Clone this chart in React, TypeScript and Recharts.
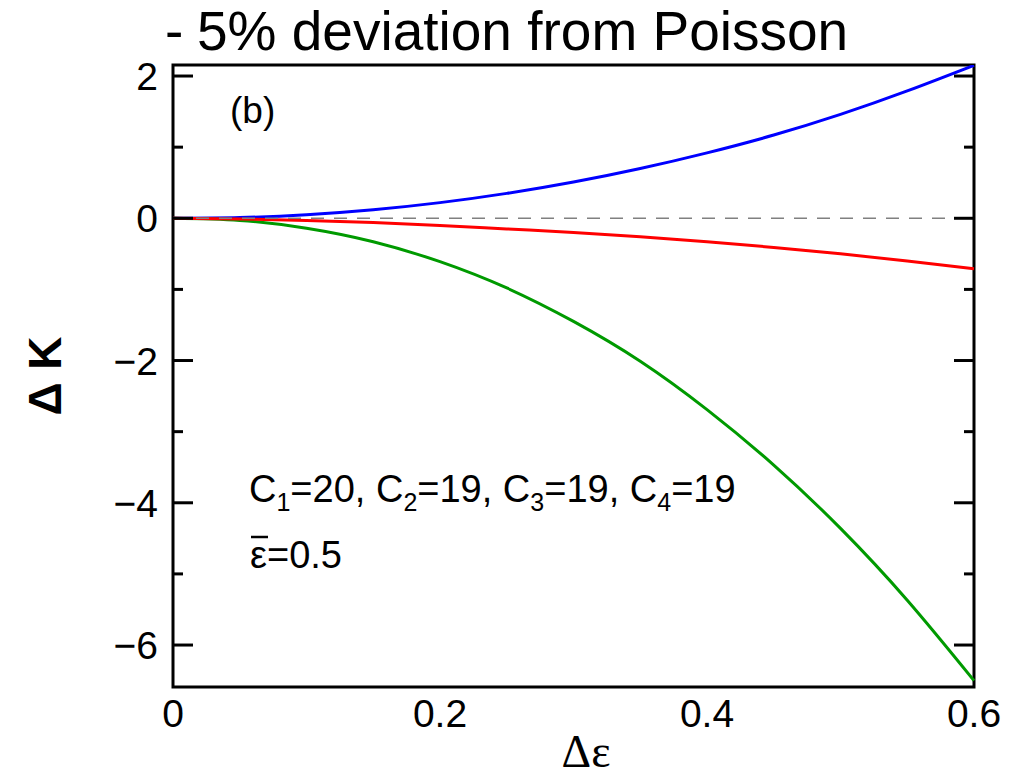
import React from 'react';
import {
  LineChart,
  Line,
  XAxis,
  YAxis,
  ReferenceLine,
  ReferenceArea,
  Customized,
} from 'recharts';

// Δε sample positions
const deltaEps = [0, 0.05, 0.1, 0.15, 0.2, 0.25, 0.3, 0.35, 0.4, 0.45, 0.5, 0.55, 0.6];

// ΔK curves
const blueK = [0, 0.01, 0.05, 0.12, 0.22, 0.35, 0.51, 0.7, 0.92, 1.17, 1.46, 1.79, 2.15];
const redK = [0, -0.01, -0.03, -0.06, -0.1, -0.15, -0.2, -0.26, -0.33, -0.41, -0.5, -0.6, -0.71];
const greenK = [0, -0.03, -0.14, -0.33, -0.61, -0.98, -1.45, -2.01, -2.69, -3.47, -4.36, -5.37, -6.5];

// axis ticks
const xTicks = [0, 0.2, 0.4, 0.6];
const yTicks = [-6, -5, -4, -3, -2, -1, 0, 1, 2];
const Y_MIN = -6.59;
const Y_MAX = 2.155;

const data = deltaEps.map((x, i) => ({
  x,
  blue: blueK[i],
  red: redK[i],
  green: greenK[i],
}));

const FONT = '"Liberation Sans", Arial, Helvetica, sans-serif';
const TICK_FONT = 39;

const fmtY = (v: number) => (v < 0 ? '\u2212' + Math.abs(v) : String(v));

const LeftTick = (props: any) => {
  const { x, y, payload } = props;
  const v = payload.value as number;
  const major = v % 2 === 0;
  return (
    <g>
      <line x1={x} x2={x + (major ? 20 : 10)} y1={y} y2={y} stroke="#000" strokeWidth={3} />
      {major && (
        <text
          x={x - 15}
          y={y + 14}
          textAnchor="end"
          fontSize={TICK_FONT}
          fontFamily={FONT}
          fill="#000"
        >
          {fmtY(v)}
        </text>
      )}
    </g>
  );
};

const RightTick = (props: any) => {
  const { x, y, payload } = props;
  const v = payload.value as number;
  const major = v % 2 === 0;
  return <line x1={x} x2={x - (major ? 20 : 10)} y1={y} y2={y} stroke="#000" strokeWidth={3} />;
};

const BottomTick = (props: any) => {
  const { x, y, payload } = props;
  const v = payload.value as number;
  return (
    <text x={x} y={y + 40} textAnchor="middle" fontSize={TICK_FONT} fontFamily={FONT} fill="#000">
      {String(v)}
    </text>
  );
};

const Annotations = () => (
  <g fontFamily={FONT} fill="#000">
    <text x={165} y={50} fontSize={55}>
      -<tspan x={197}>5% deviation from Poisson</tspan>
    </text>
    <text x={230} y={123} fontSize={37}>
      (b)
    </text>
    <text x={249} y={502} fontSize={38}>
      C<tspan fontSize={25} dy={9}>1</tspan>
      <tspan dy={-9}>=20, C</tspan>
      <tspan fontSize={25} dy={9}>2</tspan>
      <tspan dy={-9}>=19, C</tspan>
      <tspan fontSize={25} dy={9}>3</tspan>
      <tspan dy={-9}>=19, C</tspan>
      <tspan fontSize={25} dy={9}>4</tspan>
      <tspan dy={-9}>=19</tspan>
    </text>
    <text x={250} y={568} fontSize={38}>
      ε=0.5
    </text>
    <line x1={251} x2={268} y1={537} y2={537} stroke="#000" strokeWidth={2.5} />
    <text
      x={0}
      y={0}
      transform="translate(61 376) rotate(-90)"
      textAnchor="middle"
      fontSize={46}
      fontWeight="bold"
    >
      Δ K
    </text>
    <text
      x={586}
      y={767}
      textAnchor="middle"
      fontSize={46}
      fontFamily='"Liberation Serif", "DejaVu Serif", serif'
    >
      Δε
    </text>
  </g>
);

export default function App() {
  return (
    <div style={{ position: 'absolute', left: 0, top: 0, width: 1031, height: 779, background: '#fff' }}>
      <LineChart
        width={1031}
        height={779}
        data={data}
        margin={{ top: 65, right: 47, bottom: 62, left: 113 }}
      >
        <XAxis
          dataKey="x"
          type="number"
          domain={[0, 0.6]}
          ticks={xTicks}
          interval={0}
          height={30}
          axisLine={false}
          tickLine={false}
          tickSize={0}
          tickMargin={0}
          tick={<BottomTick />}
        />
        <YAxis
          type="number"
          domain={[Y_MIN, Y_MAX]}
          allowDataOverflow
          ticks={yTicks}
          interval={0}
          width={60}
          axisLine={false}
          tickLine={false}
          tickSize={0}
          tickMargin={0}
          tick={<LeftTick />}
        />
        <YAxis
          yAxisId="right"
          orientation="right"
          type="number"
          domain={[Y_MIN, Y_MAX]}
          allowDataOverflow
          ticks={yTicks}
          interval={0}
          width={10}
          axisLine={false}
          tickLine={false}
          tickSize={0}
          tickMargin={0}
          tick={<RightTick />}
        />
        <Line dataKey="blue" type="natural" stroke="#0000ff" strokeWidth={3} dot={false} isAnimationActive={false} />
        <Line dataKey="green" type="natural" stroke="#009a00" strokeWidth={3} dot={false} isAnimationActive={false} />
        <Line dataKey="red" type="natural" stroke="#ff0000" strokeWidth={3} dot={false} isAnimationActive={false} />
        <ReferenceLine y={0} stroke="#808080" strokeWidth={1.5} strokeDasharray="13 10" />
        <ReferenceArea
          x1={0}
          x2={0.6}
          y1={Y_MIN}
          y2={Y_MAX}
          fill="none"
          fillOpacity={0}
          stroke="#000"
          strokeWidth={3}
          ifOverflow="visible"
        />
        <Customized component={Annotations} />
      </LineChart>
    </div>
  );
}
